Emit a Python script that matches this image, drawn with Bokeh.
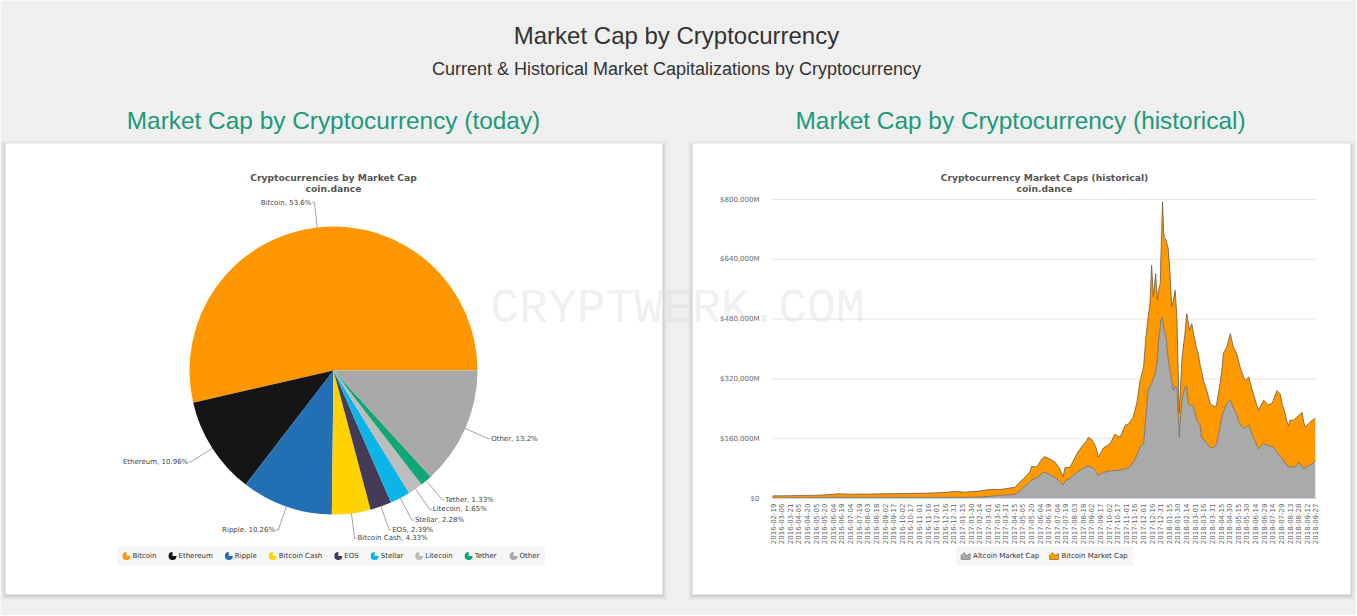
import math
from bokeh.plotting import figure
from bokeh.models import ColumnDataSource, Range1d
from bokeh.embed import file_html
from bokeh.resources import INLINE
from bokeh.core.properties import value

# ---------------- data ----------------
page_title = "Market Cap by Cryptocurrency"
page_subtitle = "Current & Historical Market Capitalizations by Cryptocurrency"
left_heading = "Market Cap by Cryptocurrency (today)"
right_heading = "Market Cap by Cryptocurrency (historical)"
watermark = "CRYPTWERK.COM"

pie_title = "Cryptocurrencies by Market Cap"
hist_title = "Cryptocurrency Market Caps (historical)"
source_name = "coin.dance"

coins = ["Bitcoin", "Ethereum", "Ripple", "Bitcoin Cash", "EOS", "Stellar", "Litecoin", "Tether", "Other"]
shares = [53.6, 10.96, 10.26, 4.33, 2.39, 2.28, 1.65, 1.33, 13.2]
coin_colors = ["#fe9600", "#151515", "#2270b3", "#ffd300", "#433b57", "#0cb5e7", "#bdbdbd", "#10a677", "#a9a9a9"]

# historical (category index of day, values in $ billions)
day = [0, 30, 56, 82, 100, 114, 135, 169, 204, 239,
       274, 300, 318, 335, 361, 378, 396, 413, 422, 428,
       437, 448, 451, 460, 469, 474, 483, 492, 500, 506,
       509, 518, 530, 538, 547, 550, 556, 559, 564, 567,
       576, 588, 596, 605, 614, 620, 628, 634, 640, 646,
       650, 654, 657, 660, 663, 667, 670, 672, 675, 676,
       679, 681, 682, 685, 689, 692, 695, 698, 701, 704,
       708, 713, 718, 721, 724, 726, 730, 733, 739, 741,
       744, 747, 750, 756, 762, 765, 771, 773, 779, 782,
       785, 791, 797, 802, 808, 811, 814, 820, 823, 829,
       837, 846, 855, 861, 863, 869, 872, 878, 884, 887,
       893, 895, 898, 901, 907, 913, 916, 922, 924, 927,
       933, 939, 945]
altcoin_b = [1.5, 1.8, 2.2, 2.5, 2.8, 3.0, 2.8, 2.5, 2.5, 2.4,
             2.5, 2.6, 3, 3, 4, 6, 8, 10, 11, 17,
             30, 44, 50, 55, 68, 71, 64, 56, 46, 36,
             46, 55, 70, 78, 86, 86, 83, 79, 72, 62,
             70, 74, 75, 76, 80, 82, 97, 115, 138, 147,
             218, 289, 300, 307, 320, 340, 370, 420, 459, 477,
             485, 455, 450, 432, 370, 343, 316, 289, 300, 298,
             165, 265, 298, 300, 254, 250, 250, 245, 209, 205,
             200, 164, 160, 147, 138, 135, 140, 147, 190, 218,
             232, 254, 263, 245, 225, 209, 200, 187, 190, 196,
             164, 133, 147, 142, 142, 138, 138, 125, 111, 108,
             93, 92, 84, 85, 84, 88, 97, 86, 80, 82,
             88, 92, 102]
bitcoin_b = [5.5, 5.7, 5.8, 6.5, 7.7, 9.5, 8.7, 9.3, 10.5, 11.1,
             12, 13.4, 16, 14, 16, 18, 16, 18, 19, 23,
             23, 27, 36, 29, 38, 41, 42, 41, 34, 22,
             36, 29, 50, 60, 69, 78, 74, 71, 61, 49,
             65, 73, 97, 88, 116, 118, 121, 139, 178, 205,
             214, 197, 220, 317, 220, 262, 161, 137, 116, 163,
             309, 254, 250, 259, 299, 259, 197, 242, 257, 188,
             65, 114, 143, 195, 216, 200, 218, 195, 188, 185,
             161, 176, 156, 142, 116, 115, 105, 103, 117, 122,
             156, 152, 178, 161, 163, 161, 152, 138, 126, 129,
             116, 103, 116, 112, 108, 116, 125, 164, 169, 146,
             132, 117, 111, 124, 126, 130, 125, 145, 130, 109,
             112, 117, 112]

x_labels = ["2016-02-19", "2016-03-06", "2016-03-21", "2016-04-05", "2016-04-20", "2016-05-05",
            "2016-05-20", "2016-06-04", "2016-06-19", "2016-07-04", "2016-07-19", "2016-08-03",
            "2016-08-18", "2016-09-02", "2016-09-17", "2016-10-02", "2016-10-17", "2016-11-01",
            "2016-11-16", "2016-12-01", "2016-12-16", "2016-12-31", "2017-01-15", "2017-01-30",
            "2017-02-14", "2017-03-01", "2017-03-16", "2017-03-31", "2017-04-15", "2017-05-05",
            "2017-05-20", "2017-06-04", "2017-06-19", "2017-07-04", "2017-07-19", "2017-08-03",
            "2017-08-18", "2017-09-02", "2017-09-17", "2017-10-02", "2017-10-17", "2017-11-01",
            "2017-11-16", "2017-12-01", "2017-12-16", "2017-12-31", "2018-01-15", "2018-01-30",
            "2018-02-14", "2018-03-01", "2018-03-16", "2018-03-31", "2018-04-15", "2018-04-30",
            "2018-05-15", "2018-05-30", "2018-06-14", "2018-06-29", "2018-07-14", "2018-07-29",
            "2018-08-13", "2018-08-28", "2018-09-12", "2018-09-27"]
label_step = 15
y_ticks_m = [0, 160000, 320000, 480000, 640000, 800000]
series_names = ["Altcoin Market Cap", "Bitcoin Market Cap"]
series_colors = ["#aaaaaa", "#ff9900"]
series_line_colors = ["#6b6b6b", "#6e5b42"]

# ---------------- style / layout ----------------
PAGE_BG = "#efefef"
TEAL = "#1b9a7a"
HEAD_FONT = value("Liberation Sans")
CH_FONT = value("DejaVu Sans")
W, H = 1356, 615

# DejaVu Sans advance widths (per 1000 em) for legend layout
DJV = {"a": 613, "b": 635, "c": 550, "d": 635, "e": 615, "f": 352, "g": 635, "h": 634, "i": 278,
       "k": 579, "l": 278, "m": 974, "n": 634, "o": 612, "p": 635, "r": 411, "s": 521, "t": 392,
       "u": 634, "w": 818, "y": 592, " ": 318, "A": 684, "B": 686, "C": 698, "E": 632, "L": 557,
       "M": 863, "O": 787, "R": 695, "S": 635, "T": 611}


def text_w(s, px=7.0):
    return sum(DJV.get(ch, 600) for ch in s) * px / 1000.0


def Y(v):  # page pixel row (from top) -> data y
    return H - v


p = figure(width=W, height=H, x_range=Range1d(0, W), y_range=Range1d(0, H),
           x_axis_type=None, y_axis_type=None, min_border=0, outline_line_color=None,
           background_fill_color=PAGE_BG, border_fill_color=PAGE_BG,
           toolbar_location=None, output_backend="svg", title=None)
p.grid.visible = False

# ---------------- header ----------------
p.text(x=[676], y=[Y(35)], text=[page_title], text_font=HEAD_FONT, text_font_size="24px",
       text_color="#333333", text_align="center", text_baseline="middle")
p.text(x=[676], y=[Y(68)], text=[page_subtitle], text_font=HEAD_FONT, text_font_size="18px",
       text_color="#333333", text_align="center", text_baseline="middle")
p.text(x=[333, 1020], y=[Y(120), Y(120)], text=[left_heading, right_heading],
       text_font=HEAD_FONT, text_font_size="24.4px", text_color=TEAL,
       text_align="center", text_baseline="middle")

# ---------------- cards with soft shadow ----------------
card_l = [5, 692]
card_r = [662, 1350]
card_t, card_b = 143, 594
for k, a in [(5, 0.012), (4, 0.018), (3, 0.025), (2, 0.035), (1, 0.055)]:
    p.quad(left=[v - k for v in card_l], right=[v + k for v in card_r],
           top=[Y(card_t - k + 2)] * 2, bottom=[Y(card_b + k + 1)] * 2,
           fill_color="black", fill_alpha=a, line_color=None)
p.quad(left=card_l, right=card_r, top=[Y(card_t)] * 2, bottom=[Y(card_b)] * 2,
       fill_color="white", line_color=None)

# ---------------- left: pie ----------------
cx, cy, r = 333, Y(370), 144
total = sum(shares)
starts, ends, cum = [], [], 0.0
for s in shares:
    starts.append(2 * math.pi * cum / total)
    cum += s
    ends.append(2 * math.pi * cum / total)
pie_src = ColumnDataSource(dict(name=coins, share=shares, start=starts, end=ends, color=coin_colors))
p.wedge(x=cx, y=cy, radius=r, start_angle="start", end_angle="end",
        fill_color="color", line_color=None, source=pie_src)

lx, ly, lt, la, cxs, cys = [], [], [], [], [], []
for name, s, a0, a1 in zip(coins, shares, starts, ends):
    m = (a0 + a1) / 2
    c, sn = math.cos(m), math.sin(m)
    ex, ey = cx + r * c, cy + r * sn
    bx, by = cx + (r + 25) * c, cy + (r + 25) * sn
    d = 1 if c >= 0 else -1
    cxs.append([ex, bx, bx + 2 * d])
    cys.append([ey, by, by])
    lx.append(bx + 3 * d)
    ly.append(by)
    lt.append(f"{name}, {s:g}%")
    la.append("left" if d > 0 else "right")
p.multi_line(xs=cxs, ys=cys, line_color="#8c8c8c", line_width=0.8)
p.text(x=lx, y=ly, text=lt, text_align=la, text_baseline="middle",
       text_font=CH_FONT, text_font_size="7px", text_color="#444444")

p.text(x=[333, 333], y=[Y(177), Y(188)], text=[pie_title, source_name],
       text_font=CH_FONT, text_font_size="9.2px", text_font_style="bold",
       text_color="#555555", text_align="center", text_baseline="middle")

# pie legend (pie-shaped icons)
leg_y = Y(555.5)
ix, tx, pos = [], [], 122.0
for n in coins:
    ix.append(pos + 4)
    tx.append(pos + 10)
    pos += 10 + text_w(n) + 12
p.quad(left=[117], right=[pos - 6], bottom=[leg_y - 9.5], top=[leg_y + 9.5],
       fill_color="#f6f6f6", line_color=None)
p.wedge(x=ix, y=leg_y, radius=4, start_angle=math.pi / 2, end_angle=2 * math.pi,
        fill_color=coin_colors, line_color=None)
p.text(x=tx, y=leg_y, text=coins, text_align="left", text_baseline="middle",
       text_font=CH_FONT, text_font_size="7px", text_color="#333333")

# ---------------- right: historical stacked area (own scales) ----------------
PX0, PX1 = 772, 1316      # plot area left/right (page px)
PY0, PY1 = 498, 199       # baseline / top (page px from top)
X_MAX, Y_MAX = 947, 800000
sx = X_MAX / (PX1 - PX0)
sy = Y_MAX / (PY0 - PY1)
p.extra_x_ranges = {"hx": Range1d(-PX0 * sx, (W - PX0) * sx)}
p.extra_y_ranges = {"hy": Range1d(-(H - PY0) * sy, PY0 * sy)}
HR = dict(x_range_name="hx", y_range_name="hy")

# grid lines + y tick labels
p.segment(x0=[0] * len(y_ticks_m), x1=[X_MAX] * len(y_ticks_m), y0=y_ticks_m, y1=y_ticks_m,
          line_color="#e6e6e6", line_width=1, **HR)
p.text(x=[0] * len(y_ticks_m), y=y_ticks_m,
       text=[(f"${v:,}M" if v else "$0") for v in y_ticks_m],
       x_offset=-13, text_align="right", text_baseline="middle",
       text_font=CH_FONT, text_font_size="7px", text_color="#666666", **HR)

hist_src = ColumnDataSource(dict(day=day,
                                 alt=[v * 1000 for v in altcoin_b],
                                 btc=[v * 1000 for v in bitcoin_b],
                                 tot=[(a + b) * 1000 for a, b in zip(altcoin_b, bitcoin_b)]))
p.varea_stack(["alt", "btc"], x="day", color=series_colors, source=hist_src, **HR)
p.line("day", "alt", source=hist_src, line_color=series_line_colors[0], line_width=0.8, **HR)
p.line("day", "tot", source=hist_src, line_color=series_line_colors[1], line_width=0.8, **HR)

# x axis line and vertical date labels
p.segment(x0=[0], x1=[X_MAX], y0=[0], y1=[0], line_color="#ccd6eb", line_width=1, **HR)
xt = [i * label_step for i in range(len(x_labels))]
p.text(x=xt, y=[0] * len(xt), text=x_labels, angle=math.pi / 2, y_offset=5,
       text_align="right", text_baseline="middle",
       text_font=CH_FONT, text_font_size="7px", text_color="#666666", **HR)

# titles
p.text(x=[1044, 1044], y=[Y(177), Y(188)], text=[hist_title, source_name],
       text_font=CH_FONT, text_font_size="9.2px", text_font_style="bold",
       text_color="#555555", text_align="center", text_baseline="middle")

# legend
hl_y = Y(555.5)
box_w = 5 + sum(9 + 3 + text_w(n) for n in series_names) + 10 + 5
hl_x0 = 1044 - box_w / 2
p.quad(left=[hl_x0], right=[hl_x0 + box_w], bottom=[hl_y - 10], top=[hl_y + 10],
       fill_color="#f6f6f6", line_color=None)
pos = hl_x0 + 5
ixs, iys, htx = [], [], []
for n in series_names:
    ixs.append([pos, pos, pos + 3, pos + 5.5, pos + 9, pos + 9])
    iys.append([hl_y - 3.5, hl_y + 0.5, hl_y + 3.5, hl_y + 0.5, hl_y + 2.5, hl_y - 3.5])
    htx.append(pos + 12)
    pos += 12 + text_w(n) + 10
p.patches(xs=ixs, ys=iys, fill_color=series_colors, line_color=series_line_colors, line_width=0.6)
p.text(x=htx, y=[hl_y] * 2, text=series_names, text_align="left", text_baseline="middle",
       text_font=CH_FONT, text_font_size="7px", text_color="#333333")

# watermark of the screenshot
p.text(x=[677], y=[Y(308)], text=[watermark], text_align="center", text_baseline="middle",
       text_font=value("Liberation Mono"), text_font_size="48px",
       text_color="#d6d6d6", text_alpha=0.35)

open("out.html", "w").write(file_html(p, INLINE))
